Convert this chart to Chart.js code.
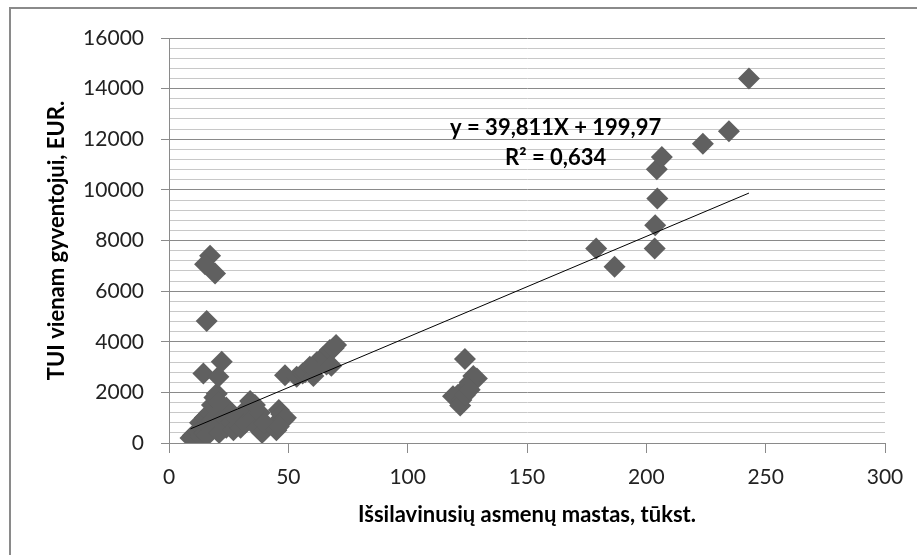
<!DOCTYPE html>
<html>
<head>
<meta charset="utf-8">
<script src="https://cdn.jsdelivr.net/npm/chart.js@4.4.0/dist/chart.umd.min.js"></script>
<style>
html, body { margin: 0; padding: 0; background: #fff; }
#wrap { position: relative; width: 917px; height: 555px; }
</style>
</head>
<body>
<div id="wrap"><canvas id="chart" width="917" height="555"></canvas></div>
<script>
// educated population (thous.) vs FDI per inhabitant (EUR)
var xValues = [
    9, 10, 11, 12, 13, 13, 14, 15, 15, 16, 16, 17, 18, 18, 19, 19, 20, 20, 21, 21,
    22, 22, 23, 24, 24, 25, 26, 27, 28, 29, 30, 31, 32, 33, 34, 35, 36, 37, 38, 39,
    40, 44, 45, 46, 47, 48, 49, 46,
    14.4, 20.7, 22.1, 15.8, 17.2, 15.1, 19.3,
    48.6, 53.5, 56, 57, 59, 60.5, 61, 62, 64.6, 66, 67.4, 68, 69, 70,
    124, 129, 127.5, 126, 125, 123, 121, 119, 122.5, 122, 124, 126,
    179, 186.7, 203.5, 203.7, 204.6, 204.4, 206.5, 223.7, 234.6, 243
];
var yValues = [
    200, 300, 100, 450, 250, 800, 600, 400, 1000, 700, 300, 1200, 900, 1500, 1800, 600, 1950, 1100, 1600, 400,
    1300, 800, 1000, 1400, 600, 1100, 800, 500, 1000, 700, 600, 1100, 800, 1400, 1660, 1000, 1500, 600, 1200, 400,
    800, 700, 500, 1300, 1150, 900, 1000, 650,
    2750, 2620, 3210, 4815, 7400, 7060, 6700,
    2680, 2620, 2750, 2800, 3010, 2650, 2900, 3200, 3400, 3100, 3670, 3050, 3750, 3870,
    3320, 2550, 2650, 2400, 2200, 2050, 1900, 1850, 1700, 1480, 1900, 2100,
    7680, 6960, 7680, 8600, 9655, 10812, 11300, 11826, 12320, 14400
];
var trendSlope = 39.811;
var trendIntercept = 199.97;
var equationLines = ['y = 39,811X + 199,97', 'R² = 0,634'];
var xTitle = 'Išsilavinusių asmenų mastas, tūkst.';
var yTitle = 'TUI vienam gyventojui, EUR.';

var points = xValues.map(function (x, i) {
    return { x: x, y: yValues[i] };
});
var minX = Math.min.apply(null, xValues);
var maxX = Math.max.apply(null, xValues);
var trend = [minX, maxX].map(function (x) {
    return { x: x, y: trendSlope * x + trendIntercept };
});

var fontName = 'Lato, "Open Sans", sans-serif';

var framePlugin = {
    id: 'frame',
    beforeDraw: function (chart) {
        var ctx = chart.ctx;
        ctx.save();
        ctx.strokeStyle = '#8a8a8a';
        ctx.lineWidth = 2;
        ctx.strokeRect(10, 8, 1000, 1000);
        ctx.restore();
    },
    afterDatasetsDraw: function (chart) {
        var ctx = chart.ctx;
        var xs = chart.scales.x, ys = chart.scales.y;
        ctx.save();
        ctx.fillStyle = '#000';
        ctx.font = 'bold 22px ' + fontName;
        ctx.textAlign = 'center';
        ctx.textBaseline = 'middle';
        ctx.fillText(equationLines[0], xs.getPixelForValue(162), ys.getPixelForValue(12450));
        ctx.fillText(equationLines[1], xs.getPixelForValue(162), ys.getPixelForValue(11250));
        ctx.restore();
    }
};

var context = document.getElementById('chart').getContext('2d');
var chart = new Chart(context, {
    type: 'scatter',
    data: {
        datasets: [{
            type: 'line',
            data: trend,
            borderColor: '#000',
            borderWidth: 1,
            pointRadius: 0,
            fill: false,
            order: 0
        }, {
            data: points,
            pointStyle: 'rectRot',
            pointRadius: 11,
            pointHoverRadius: 11,
            backgroundColor: '#606060',
            borderWidth: 0,
            order: 1
        }]
    },
    options: {
        responsive: false,
        animation: false,
        devicePixelRatio: 1,
        events: [],
        layout: { padding: { left: 0, top: 38, right: 32, bottom: 0 } },
        plugins: { legend: { display: false }, tooltip: { enabled: false } },
        scales: {
            x: {
                type: 'linear',
                min: 0,
                max: 300,
                afterFit: function (scale) { scale.height = 112; },
                ticks: { stepSize: 50, color: '#222', padding: 12, font: { family: fontName, size: 21 } },
                grid: { drawOnChartArea: false, drawTicks: true, tickLength: 10, color: '#8a8a8a' },
                border: { color: '#8a8a8a' },
                title: {
                    display: true,
                    text: xTitle,
                    color: '#000',
                    font: { family: fontName, size: 22, weight: 'bold' },
                    padding: { top: 0, bottom: 27 }
                }
            },
            y: {
                min: 0,
                max: 16000,
                afterFit: function (scale) { scale.width = 169; },
                ticks: {
                    stepSize: 400,
                    autoSkip: false,
                    color: '#222',
                    padding: 17,
                    font: { family: fontName, size: 21 },
                    callback: function (v) { return v % 2000 === 0 ? String(v) : ''; }
                },
                grid: {
                    drawTicks: true,
                    tickLength: 8,
                    color: function (c) { return c.tick && c.tick.value % 2000 === 0 ? '#8a8a8a' : '#c8c8c8'; },
                    tickColor: function (c) { return c.tick && c.tick.value % 2000 === 0 ? '#8a8a8a' : 'rgba(0,0,0,0)'; }
                },
                border: { color: '#8a8a8a' },
                title: {
                    display: true,
                    text: yTitle,
                    color: '#000',
                    font: { family: fontName, size: 22, weight: 'bold' },
                    padding: { top: 44, bottom: 0 }
                }
            }
        }
    },
    plugins: [framePlugin]
});
</script>
</body>
</html>
